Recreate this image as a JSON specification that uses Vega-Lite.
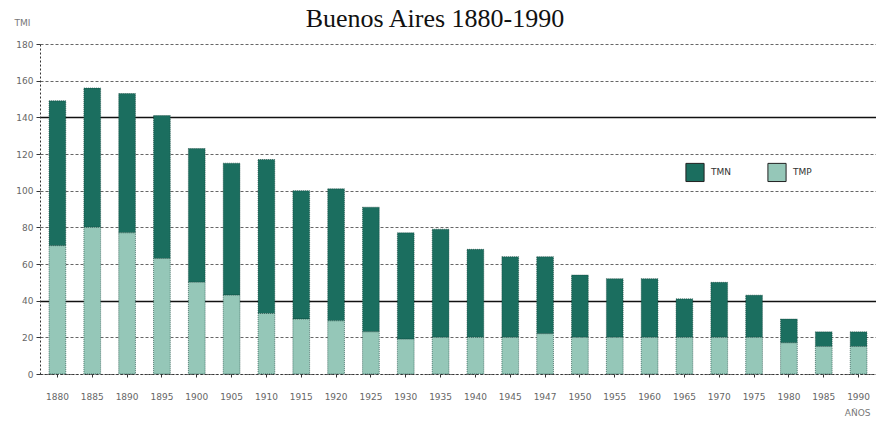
{
  "$schema": "https://vega.github.io/schema/vega-lite/v6.json",
  "width": 836,
  "height": 330,
  "autosize": {"type": "none"},
  "padding": {"left": 40, "top": 44, "right": 0, "bottom": 47},
  "background": "white",
  "title": {
    "text": "Buenos Aires 1880-1990",
    "font": "Liberation Serif",
    "fontSize": 26,
    "fontWeight": "normal",
    "color": "#111",
    "anchor": "middle",
    "frame": "group",
    "offset": -14,
    "dx": -23
  },
  "data": {
    "values": [
      {"year": "1880", "serie": "TMN", "value": 79}, {"year": "1880", "serie": "TMP", "value": 70},
      {"year": "1885", "serie": "TMN", "value": 76}, {"year": "1885", "serie": "TMP", "value": 80},
      {"year": "1890", "serie": "TMN", "value": 76}, {"year": "1890", "serie": "TMP", "value": 77},
      {"year": "1895", "serie": "TMN", "value": 78}, {"year": "1895", "serie": "TMP", "value": 63},
      {"year": "1900", "serie": "TMN", "value": 73}, {"year": "1900", "serie": "TMP", "value": 50},
      {"year": "1905", "serie": "TMN", "value": 72}, {"year": "1905", "serie": "TMP", "value": 43},
      {"year": "1910", "serie": "TMN", "value": 84}, {"year": "1910", "serie": "TMP", "value": 33},
      {"year": "1915", "serie": "TMN", "value": 70}, {"year": "1915", "serie": "TMP", "value": 30},
      {"year": "1920", "serie": "TMN", "value": 72}, {"year": "1920", "serie": "TMP", "value": 29},
      {"year": "1925", "serie": "TMN", "value": 68}, {"year": "1925", "serie": "TMP", "value": 23},
      {"year": "1930", "serie": "TMN", "value": 58}, {"year": "1930", "serie": "TMP", "value": 19},
      {"year": "1935", "serie": "TMN", "value": 59}, {"year": "1935", "serie": "TMP", "value": 20},
      {"year": "1940", "serie": "TMN", "value": 48}, {"year": "1940", "serie": "TMP", "value": 20},
      {"year": "1945", "serie": "TMN", "value": 44}, {"year": "1945", "serie": "TMP", "value": 20},
      {"year": "1947", "serie": "TMN", "value": 42}, {"year": "1947", "serie": "TMP", "value": 22},
      {"year": "1950", "serie": "TMN", "value": 34}, {"year": "1950", "serie": "TMP", "value": 20},
      {"year": "1955", "serie": "TMN", "value": 32}, {"year": "1955", "serie": "TMP", "value": 20},
      {"year": "1960", "serie": "TMN", "value": 32}, {"year": "1960", "serie": "TMP", "value": 20},
      {"year": "1965", "serie": "TMN", "value": 21}, {"year": "1965", "serie": "TMP", "value": 20},
      {"year": "1970", "serie": "TMN", "value": 30}, {"year": "1970", "serie": "TMP", "value": 20},
      {"year": "1975", "serie": "TMN", "value": 23}, {"year": "1975", "serie": "TMP", "value": 20},
      {"year": "1980", "serie": "TMN", "value": 13}, {"year": "1980", "serie": "TMP", "value": 17},
      {"year": "1985", "serie": "TMN", "value": 8}, {"year": "1985", "serie": "TMP", "value": 15},
      {"year": "1990", "serie": "TMN", "value": 8}, {"year": "1990", "serie": "TMP", "value": 15}
    ]
  },
  "mark": {"type": "bar", "stroke": "#0b3b32", "strokeWidth": 0.6, "strokeDash": [1, 1]},
  "encoding": {
    "x": {
      "field": "year",
      "type": "ordinal",
      "scale": {"paddingInner": 0.52, "paddingOuter": 0.26},
      "axis": {
        "title": "AÑOS",
        "titleFont": "DejaVu Sans",
        "titleFontSize": 9,
        "titleFontWeight": "normal",
        "titleColor": "#777",
        "titleAnchor": "end",
        "titleAlign": "right",
        "titleX": 830,
        "titleY": 34,
        "labelAngle": 0,
        "labelFont": "DejaVu Sans",
        "labelFontSize": 9,
        "labelColor": "#666",
        "labelPadding": 15,
        "domainColor": "#333",
        "domainDash": [2, 2],
        "tickColor": "#333",
        "tickSize": 3,
        "grid": false
      }
    },
    "y": {
      "field": "value",
      "type": "quantitative",
      "stack": "zero",
      "scale": {"domain": [0, 180], "nice": false},
      "axis": {
        "title": "TMI",
        "titleAngle": 0,
        "titleFont": "DejaVu Sans",
        "titleFontSize": 9,
        "titleFontWeight": "normal",
        "titleColor": "#777",
        "titleAlign": "left",
        "titleBaseline": "top",
        "titleX": -26,
        "titleY": -26,
        "values": [0, 20, 40, 60, 80, 100, 120, 140, 160, 180],
        "labelFont": "DejaVu Sans",
        "labelFontSize": 9,
        "labelColor": "#666",
        "labelPadding": 3,
        "domainColor": "#333",
        "domainDash": [2, 2],
        "tickColor": "#333",
        "tickSize": 4,
        "grid": true,
        "gridColor": {"condition": {"test": "datum.value == 40 || datum.value == 140", "value": "#111"}, "value": "#666"},
        "gridDash": {"condition": {"test": "datum.value == 40 || datum.value == 140", "value": []}, "value": [3, 2]},
        "gridWidth": {"condition": {"test": "datum.value == 40 || datum.value == 140", "value": 1.5}, "value": 1}
      }
    },
    "color": {
      "field": "serie",
      "type": "nominal",
      "scale": {"domain": ["TMN", "TMP"], "range": ["#1b6e5f", "#95c7b8"]},
      "legend": {
        "title": null,
        "orient": "none",
        "legendX": 645,
        "legendY": 118,
        "direction": "horizontal",
        "symbolType": "square",
        "symbolSize": 330,
        "symbolStrokeColor": "#222",
        "symbolStrokeWidth": 1,
        "labelFont": "DejaVu Sans",
        "labelFontSize": 9,
        "labelColor": "#333",
        "labelOffset": 6,
        "columnPadding": 34
      }
    },
    "order": {"field": "serie", "sort": "descending"}
  },
  "config": {"view": {"stroke": null}}
}
